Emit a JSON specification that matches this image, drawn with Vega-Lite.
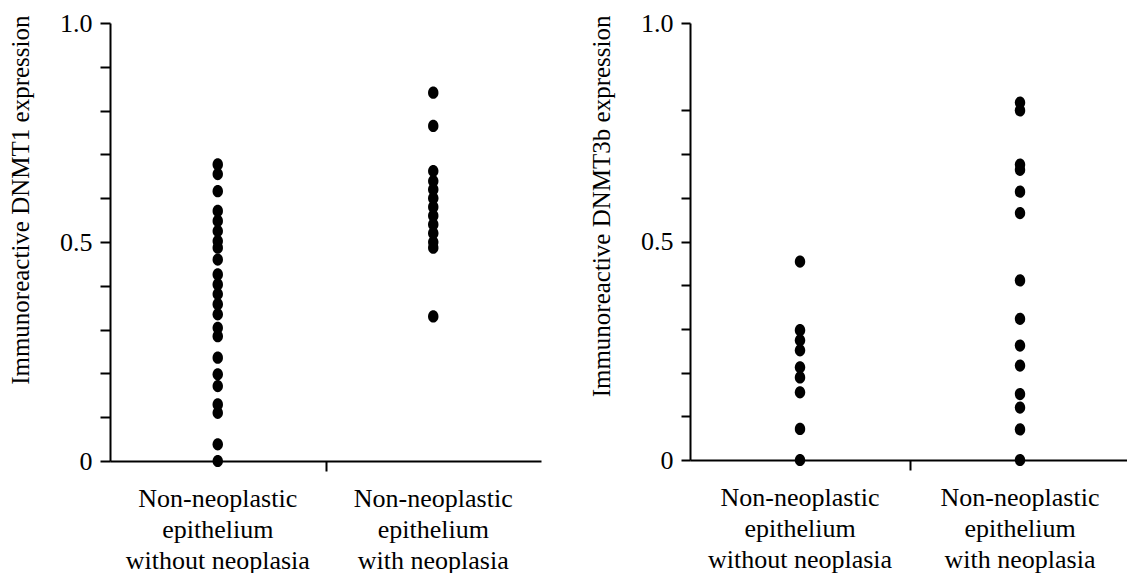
{
  "$schema": "https://vega.github.io/schema/vega-lite/v6.json",
  "background": "white",
  "padding": {"left": 8, "top": 10, "right": 0, "bottom": 0},
  "spacing": 48,
  "config": {
    "view": {"stroke": null},
    "font": "Liberation Serif, Times New Roman, serif",
    "axis": {
      "labelFont": "Liberation Serif, Times New Roman, serif",
      "titleFont": "Liberation Serif, Times New Roman, serif",
      "labelFontSize": 26,
      "titleFontSize": 25,
      "titleFontWeight": "normal",
      "labelColor": "black",
      "titleColor": "black",
      "domainColor": "black",
      "tickColor": "black",
      "domainWidth": 2,
      "tickWidth": 2,
      "tickSize": 10,
      "labelLimit": 0,
      "grid": false
    }
  },
  "datasets": {
    "expr": [
      {"marker": "DNMT1", "group": "Non-neoplastic epithelium without neoplasia", "value": 0.677},
      {"marker": "DNMT1", "group": "Non-neoplastic epithelium without neoplasia", "value": 0.655},
      {"marker": "DNMT1", "group": "Non-neoplastic epithelium without neoplasia", "value": 0.616},
      {"marker": "DNMT1", "group": "Non-neoplastic epithelium without neoplasia", "value": 0.571},
      {"marker": "DNMT1", "group": "Non-neoplastic epithelium without neoplasia", "value": 0.548},
      {"marker": "DNMT1", "group": "Non-neoplastic epithelium without neoplasia", "value": 0.525},
      {"marker": "DNMT1", "group": "Non-neoplastic epithelium without neoplasia", "value": 0.502},
      {"marker": "DNMT1", "group": "Non-neoplastic epithelium without neoplasia", "value": 0.487},
      {"marker": "DNMT1", "group": "Non-neoplastic epithelium without neoplasia", "value": 0.46},
      {"marker": "DNMT1", "group": "Non-neoplastic epithelium without neoplasia", "value": 0.426},
      {"marker": "DNMT1", "group": "Non-neoplastic epithelium without neoplasia", "value": 0.403},
      {"marker": "DNMT1", "group": "Non-neoplastic epithelium without neoplasia", "value": 0.381},
      {"marker": "DNMT1", "group": "Non-neoplastic epithelium without neoplasia", "value": 0.358},
      {"marker": "DNMT1", "group": "Non-neoplastic epithelium without neoplasia", "value": 0.335},
      {"marker": "DNMT1", "group": "Non-neoplastic epithelium without neoplasia", "value": 0.304},
      {"marker": "DNMT1", "group": "Non-neoplastic epithelium without neoplasia", "value": 0.285},
      {"marker": "DNMT1", "group": "Non-neoplastic epithelium without neoplasia", "value": 0.236},
      {"marker": "DNMT1", "group": "Non-neoplastic epithelium without neoplasia", "value": 0.198},
      {"marker": "DNMT1", "group": "Non-neoplastic epithelium without neoplasia", "value": 0.171},
      {"marker": "DNMT1", "group": "Non-neoplastic epithelium without neoplasia", "value": 0.129},
      {"marker": "DNMT1", "group": "Non-neoplastic epithelium without neoplasia", "value": 0.11},
      {"marker": "DNMT1", "group": "Non-neoplastic epithelium without neoplasia", "value": 0.038},
      {"marker": "DNMT1", "group": "Non-neoplastic epithelium without neoplasia", "value": 0.0},
      {"marker": "DNMT1", "group": "Non-neoplastic epithelium with neoplasia", "value": 0.841},
      {"marker": "DNMT1", "group": "Non-neoplastic epithelium with neoplasia", "value": 0.765},
      {"marker": "DNMT1", "group": "Non-neoplastic epithelium with neoplasia", "value": 0.662},
      {"marker": "DNMT1", "group": "Non-neoplastic epithelium with neoplasia", "value": 0.639},
      {"marker": "DNMT1", "group": "Non-neoplastic epithelium with neoplasia", "value": 0.62},
      {"marker": "DNMT1", "group": "Non-neoplastic epithelium with neoplasia", "value": 0.6},
      {"marker": "DNMT1", "group": "Non-neoplastic epithelium with neoplasia", "value": 0.58},
      {"marker": "DNMT1", "group": "Non-neoplastic epithelium with neoplasia", "value": 0.56},
      {"marker": "DNMT1", "group": "Non-neoplastic epithelium with neoplasia", "value": 0.54},
      {"marker": "DNMT1", "group": "Non-neoplastic epithelium with neoplasia", "value": 0.52},
      {"marker": "DNMT1", "group": "Non-neoplastic epithelium with neoplasia", "value": 0.5},
      {"marker": "DNMT1", "group": "Non-neoplastic epithelium with neoplasia", "value": 0.487},
      {"marker": "DNMT1", "group": "Non-neoplastic epithelium with neoplasia", "value": 0.33},
      {"marker": "DNMT3b", "group": "Non-neoplastic epithelium without neoplasia", "value": 0.454},
      {"marker": "DNMT3b", "group": "Non-neoplastic epithelium without neoplasia", "value": 0.297},
      {"marker": "DNMT3b", "group": "Non-neoplastic epithelium without neoplasia", "value": 0.274},
      {"marker": "DNMT3b", "group": "Non-neoplastic epithelium without neoplasia", "value": 0.251},
      {"marker": "DNMT3b", "group": "Non-neoplastic epithelium without neoplasia", "value": 0.212},
      {"marker": "DNMT3b", "group": "Non-neoplastic epithelium without neoplasia", "value": 0.189},
      {"marker": "DNMT3b", "group": "Non-neoplastic epithelium without neoplasia", "value": 0.155},
      {"marker": "DNMT3b", "group": "Non-neoplastic epithelium without neoplasia", "value": 0.071},
      {"marker": "DNMT3b", "group": "Non-neoplastic epithelium without neoplasia", "value": 0.0},
      {"marker": "DNMT3b", "group": "Non-neoplastic epithelium with neoplasia", "value": 0.818},
      {"marker": "DNMT3b", "group": "Non-neoplastic epithelium with neoplasia", "value": 0.8},
      {"marker": "DNMT3b", "group": "Non-neoplastic epithelium with neoplasia", "value": 0.676},
      {"marker": "DNMT3b", "group": "Non-neoplastic epithelium with neoplasia", "value": 0.664},
      {"marker": "DNMT3b", "group": "Non-neoplastic epithelium with neoplasia", "value": 0.614},
      {"marker": "DNMT3b", "group": "Non-neoplastic epithelium with neoplasia", "value": 0.565},
      {"marker": "DNMT3b", "group": "Non-neoplastic epithelium with neoplasia", "value": 0.411},
      {"marker": "DNMT3b", "group": "Non-neoplastic epithelium with neoplasia", "value": 0.323},
      {"marker": "DNMT3b", "group": "Non-neoplastic epithelium with neoplasia", "value": 0.262},
      {"marker": "DNMT3b", "group": "Non-neoplastic epithelium with neoplasia", "value": 0.216},
      {"marker": "DNMT3b", "group": "Non-neoplastic epithelium with neoplasia", "value": 0.151},
      {"marker": "DNMT3b", "group": "Non-neoplastic epithelium with neoplasia", "value": 0.12},
      {"marker": "DNMT3b", "group": "Non-neoplastic epithelium with neoplasia", "value": 0.07},
      {"marker": "DNMT3b", "group": "Non-neoplastic epithelium with neoplasia", "value": 0.0}
    ]
  },
  "hconcat": [
    {
      "width": 431,
      "height": 438,
      "data": {"name": "expr"},
      "transform": [{"filter": "datum.marker == 'DNMT1'"}],
      "resolve": {"axis": {"x": "independent"}},
      "layer": [
        {
          "mark": {"type": "point", "filled": true, "opacity": 1, "color": "black", "size": 150, "shape": "M0,-1A0.85,1 0 1,1 0,1A0.85,1 0 1,1 0,-1Z"},
          "encoding": {
            "x": {
              "field": "group", "type": "nominal", "sort": null,
              "scale": {"type": "band", "paddingInner": 0, "paddingOuter": 0},
              "axis": {
                "title": null, "ticks": false, "labelAngle": 0, "labelPadding": 24,
                "labelBaseline": "top", "labelLineHeight": 31, "orient": "bottom",
                "labelExpr": "datum.value == 'Non-neoplastic epithelium without neoplasia' ? ['Non-neoplastic', 'epithelium', 'without neoplasia'] : ['Non-neoplastic', 'epithelium', 'with neoplasia']"
              }
            },
            "y": {
              "field": "value", "type": "quantitative",
              "scale": {"domain": [0, 1], "nice": false, "zero": true},
              "axis": {
                "title": "Immunoreactive DNMT1 expression",
                "values": [0, 0.1, 0.2, 0.3, 0.4, 0.5, 0.6, 0.7, 0.8, 0.9, 1],
                "labelExpr": "datum.value == 0 ? '0' : datum.value == 0.5 ? '0.5' : datum.value == 1 ? '1.0' : ''",
                "labelPadding": 8,
                "titleAnchor": "end",
                "titleY": -8,
                "titlePadding": 26
              }
            }
          }
        },
        {
          "mark": {"type": "point", "opacity": 0},
          "encoding": {
            "x": {
              "field": "group", "type": "nominal", "sort": null,
              "axis": {
                "title": null, "labels": false, "domain": false, "ticks": true, "orient": "bottom",
                "values": ["Non-neoplastic epithelium without neoplasia"],
                "tickOffset": 107.75
              }
            },
            "y": {"field": "value", "type": "quantitative"}
          }
        }
      ]
    },
    {
      "width": 440,
      "height": 437,
      "data": {"name": "expr"},
      "transform": [{"filter": "datum.marker == 'DNMT3b'"}],
      "resolve": {"axis": {"x": "independent"}},
      "layer": [
        {
          "mark": {"type": "point", "filled": true, "opacity": 1, "color": "black", "size": 150, "shape": "M0,-1A0.85,1 0 1,1 0,1A0.85,1 0 1,1 0,-1Z"},
          "encoding": {
            "x": {
              "field": "group", "type": "nominal", "sort": null,
              "scale": {"type": "band", "paddingInner": 0, "paddingOuter": 0},
              "axis": {
                "title": null, "ticks": false, "labelAngle": 0, "labelPadding": 24,
                "labelBaseline": "top", "labelLineHeight": 31, "orient": "bottom",
                "labelExpr": "datum.value == 'Non-neoplastic epithelium without neoplasia' ? ['Non-neoplastic', 'epithelium', 'without neoplasia'] : ['Non-neoplastic', 'epithelium', 'with neoplasia']"
              }
            },
            "y": {
              "field": "value", "type": "quantitative",
              "scale": {"domain": [0, 1], "nice": false, "zero": true},
              "axis": {
                "title": "Immunoreactive DNMT3b expression",
                "values": [0, 0.1, 0.2, 0.3, 0.4, 0.5, 0.6, 0.7, 0.8, 1],
                "labelExpr": "datum.value == 0 ? '0' : datum.value == 0.5 ? '0.5' : datum.value == 1 ? '1.0' : ''",
                "labelPadding": 8,
                "tickSize": 9,
                "titleAnchor": "end",
                "titleY": -8,
                "titlePadding": 26
              }
            }
          }
        },
        {
          "mark": {"type": "point", "opacity": 0},
          "encoding": {
            "x": {
              "field": "group", "type": "nominal", "sort": null,
              "axis": {
                "title": null, "labels": false, "domain": false, "ticks": true, "orient": "bottom",
                "values": ["Non-neoplastic epithelium without neoplasia"],
                "tickOffset": 110
              }
            },
            "y": {"field": "value", "type": "quantitative"}
          }
        }
      ]
    }
  ]
}
